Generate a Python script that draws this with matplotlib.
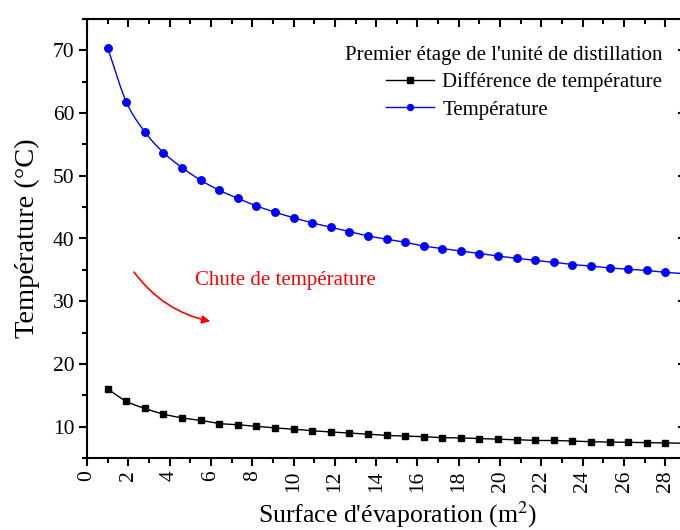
import numpy as np
import matplotlib
matplotlib.use("Agg")
import matplotlib.pyplot as plt
from matplotlib.ticker import MultipleLocator

# Evaporation surface (m2) and temperatures of the first distillation stage
surface = [1.0 + 0.9 * i for i in range(32)]
temperature = [70.4, 61.8, 57.0, 53.7, 51.3, 49.3, 47.7, 46.4, 45.2, 44.2,
               43.3, 42.5, 41.8, 41.1, 40.4, 39.9, 39.4, 38.8, 38.4, 38.0,
               37.6, 37.2, 36.85, 36.5, 36.2, 35.85, 35.6, 35.3, 35.1, 34.9,
               34.6, 34.4]
delta_t = [16.0, 14.05, 12.9, 12.0, 11.4, 11.0, 10.5, 10.3, 10.05, 9.8,
           9.6, 9.35, 9.15, 9.0, 8.8, 8.6, 8.5, 8.4, 8.25, 8.2,
           8.1, 8.0, 7.9, 7.8, 7.8, 7.7, 7.6, 7.55, 7.5, 7.45,
           7.4, 7.35]

x_ticks = list(range(0, 30, 2))
y_ticks = [10, 20, 30, 40, 50, 60, 70]

plt.rcParams["font.family"] = ["Liberation Serif", "DejaVu Serif"]
plt.rcParams["mathtext.fontset"] = "stix"


def hermite(x, y, n=16):
    """Smooth cubic Hermite curve through the measured points."""
    x = np.asarray(x, float)
    y = np.asarray(y, float)
    m = np.gradient(y, x)
    xs, ys = [], []
    t = np.linspace(0, 1, n, endpoint=False)
    for i in range(len(x) - 1):
        h = x[i + 1] - x[i]
        h00 = 2 * t**3 - 3 * t**2 + 1
        h10 = t**3 - 2 * t**2 + t
        h01 = -2 * t**3 + 3 * t**2
        h11 = t**3 - t**2
        xs.append(x[i] + t * h)
        ys.append(h00 * y[i] + h10 * h * m[i] + h01 * y[i + 1] + h11 * h * m[i + 1])
    xs.append([x[-1]])
    ys.append([y[-1]])
    return np.concatenate(xs), np.concatenate(ys)


fig = plt.figure(figsize=(6.8, 5.3), dpi=100)
ax = fig.add_axes([87 / 680, 72 / 530, 599 / 680, 439 / 530])

for xs_, ys_, col, mk, ms, lab in [
    (surface, delta_t, "black", "s", 5.0, "Différence de température"),
    (surface, temperature, "blue", "o", 5.4, "Température"),
]:
    sx, sy = hermite(xs_, ys_)
    ax.plot(sx, sy, color=col, lw=1.0, zorder=2)
    ax.plot(xs_, ys_, linestyle="none", marker=mk, ms=ms, color=col, zorder=3)
    ax.plot([], [], color=col, lw=1.0, marker=mk, ms=ms * 0.8, label=lab)

ax.set_xlim(0, 29)
ax.set_ylim(5, 75)
ax.set_xticks(x_ticks)
ax.set_xticklabels([str(v) for v in x_ticks], rotation=90)
ax.xaxis.set_minor_locator(MultipleLocator(1))
ax.set_yticks(y_ticks)
ax.yaxis.set_minor_locator(MultipleLocator(5))

for s in ax.spines.values():
    s.set_linewidth(1.5)

ax.tick_params(axis="both", which="major", direction="out", length=6,
               width=1.5, labelsize=15.5, pad=3, colors="black")
ax.tick_params(axis="both", which="minor", direction="out", length=3.5,
               width=1.5)
ax.tick_params(axis="x", which="both", top=True)
ax.tick_params(axis="y", which="both", right=True)
# ticks on the top and right edges point inward
for tick in ax.xaxis.get_major_ticks() + ax.xaxis.get_minor_ticks():
    tick.tick2line.set_marker(matplotlib.lines.TICKDOWN)
for tick in ax.yaxis.get_major_ticks() + ax.yaxis.get_minor_ticks():
    tick.tick2line.set_marker(matplotlib.lines.TICKLEFT)

ax.set_xlabel("Surface d'évaporation (m$^2$)", fontsize=18.5, labelpad=5)
ax.xaxis.label.set_x(0.519)
ax.set_ylabel("Température (°C)", fontsize=20.5, labelpad=9)

leg = ax.legend(loc="upper right", bbox_to_anchor=(0.985, 0.972),
                title="Premier étage de l'unité de distillation",
                title_fontsize=15, fontsize=15, frameon=False,
                alignment="right", handlelength=2.3, handletextpad=0.4,
                labelspacing=0.37, borderpad=0.2)

ax.annotate("", xy=(6.1, 26.7), xytext=(2.2, 35.0),
            arrowprops=dict(arrowstyle="-|>", color="red", lw=1.2,
                            mutation_scale=12,
                            connectionstyle="arc3,rad=0.2"))
ax.text(5.23, 33.3, "Chute de température", color="red", fontsize=15,
        va="center", ha="left")

fig.savefig("out.png", dpi=100)
